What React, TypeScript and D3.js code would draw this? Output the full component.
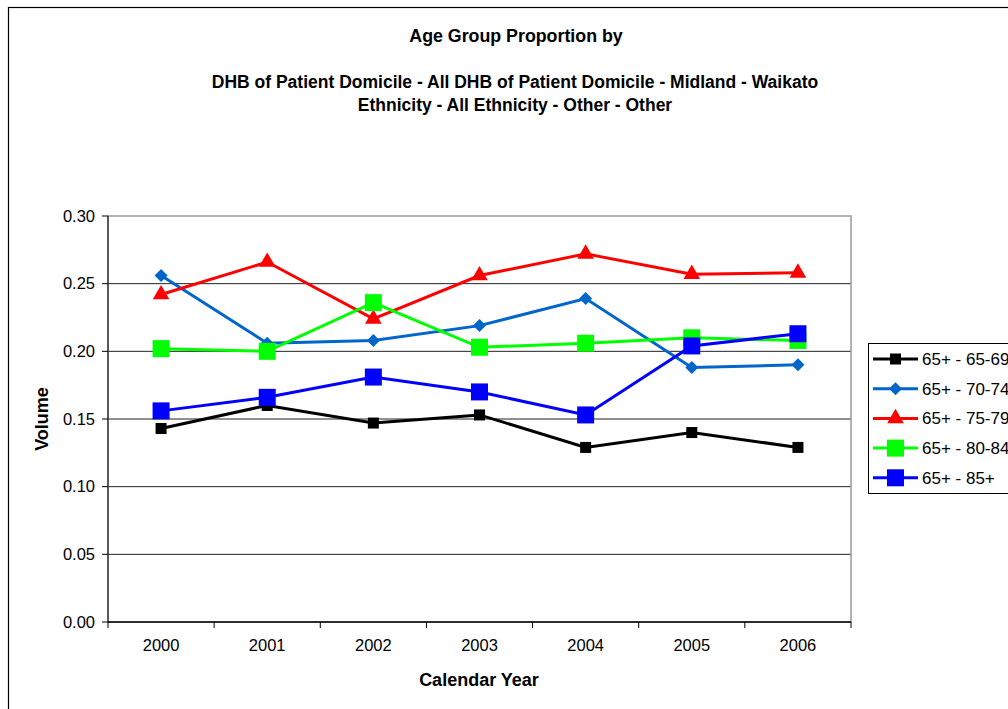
import { scaleBand, scaleLinear, line as d3Line, symbol, symbolTriangle } from 'd3';

const years = ['2000', '2001', '2002', '2003', '2004', '2005', '2006'];
const yTicks = [0, 0.05, 0.1, 0.15, 0.2, 0.25, 0.3];

const age6569 = [0.143, 0.16, 0.147, 0.153, 0.129, 0.14, 0.129];
const age7074 = [0.256, 0.206, 0.208, 0.219, 0.239, 0.188, 0.19];
const age7579 = [0.242, 0.266, 0.224, 0.256, 0.272, 0.257, 0.258];
const age8084 = [0.202, 0.2, 0.236, 0.203, 0.206, 0.21, 0.208];
const age85 = [0.156, 0.166, 0.181, 0.17, 0.153, 0.204, 0.213];

const seriesNames = ['65+ - 65-69', '65+ - 70-74', '65+ - 75-79', '65+ - 80-84', '65+ - 85+'];
const seriesValues = [age6569, age7074, age7579, age8084, age85];
const seriesColors = ['#000000', '#0066CC', '#FF0000', '#00FF00', '#0000FF'];
const seriesMarkers = ['square', 'diamond', 'triangle', 'bigsquare', 'bigsquare'];

const FONT = 'Liberation Sans, Arial, sans-serif';

// plot area in page pixels
const M = { left: 108, right: 851, top: 216, bottom: 622 };

const Marker = ({ kind, x, y, color }: { kind: string; x: number; y: number; color: string }) => {
  if (kind === 'square') {
    return <rect x={x - 5.5} y={y - 5.5} width={11} height={11} fill={color} />;
  }
  if (kind === 'bigsquare') {
    return <rect x={x - 8.5} y={y - 8.5} width={17} height={17} fill={color} />;
  }
  if (kind === 'diamond') {
    const r = 6.5;
    return (
      <path
        d={`M${x},${y - r}L${x + r},${y}L${x},${y + r}L${x - r},${y}Z`}
        fill={color}
      />
    );
  }
  const tri = symbol().type(symbolTriangle).size(120)();
  return <path d={tri || ''} transform={`translate(${x},${y})`} fill={color} />;
};

const App = () => {
  const x = scaleBand().domain(years).range([M.left, M.right]);
  const y = scaleLinear().domain([0, 0.3]).range([M.bottom, M.top]);
  const cx = (d: string) => (x(d) || 0) + x.bandwidth() / 2;

  const line = d3Line<number>()
    .x((_, i) => cx(years[i]))
    .y((v) => y(v));

  const legendTop = 343;
  const legendStep = 29.7;

  return (
    <svg
      width={1008}
      height={709}
      style={{ position: 'absolute', left: 0, top: 0, background: '#fff' }}
      fontFamily={FONT}
    >
      {/* chart border */}
      <rect x={8.5} y={7.5} width={1010} height={720} fill="none" stroke="#000" strokeWidth={1.2} />

      {/* titles */}
      <g fontWeight="bold" textAnchor="middle" fill="#000">
        <text x={516} y={42} fontSize={17.8}>Age Group Proportion by</text>
        <text x={515} y={88} fontSize={17.5}>DHB of Patient Domicile - All DHB of Patient Domicile - Midland - Waikato</text>
        <text x={515} y={111} fontSize={17.5}>Ethnicity - All Ethnicity - Other - Other</text>
      </g>

      {/* gridlines */}
      {yTicks.slice(1, -1).map((t) => (
        <line key={t} x1={M.left} x2={M.right} y1={y(t)} y2={y(t)} stroke="#222" strokeWidth={1} />
      ))}
      {/* plot area border */}
      <rect
        x={M.left}
        y={M.top}
        width={M.right - M.left}
        height={M.bottom - M.top}
        fill="none"
        stroke="#999"
        strokeWidth={1.5}
      />

      {/* y axis */}
      <line x1={M.left} x2={M.left} y1={M.top} y2={M.bottom} stroke="#000" strokeWidth={1} />
      {yTicks.map((t) => (
        <g key={t}>
          <line x1={M.left - 6} x2={M.left} y1={y(t)} y2={y(t)} stroke="#000" />
          <text x={M.left - 13} y={y(t) + 5.5} fontSize={16.5} textAnchor="end">
            {t.toFixed(2)}
          </text>
        </g>
      ))}

      {/* x axis */}
      <line x1={M.left} x2={M.right} y1={M.bottom} y2={M.bottom} stroke="#000" strokeWidth={1.5} />
      {[...years.map((d) => x(d) || 0), M.right].map((px, i) => (
        <line key={i} x1={px} x2={px} y1={M.bottom} y2={M.bottom + 6} stroke="#000" />
      ))}
      {years.map((d) => (
        <text key={d} x={cx(d)} y={M.bottom + 29} fontSize={16.5} textAnchor="middle">
          {d}
        </text>
      ))}

      {/* axis titles */}
      <text x={479} y={686} fontSize={18} fontWeight="bold" textAnchor="middle">
        Calendar Year
      </text>
      <text
        transform={`translate(48, ${(M.top + M.bottom) / 2}) rotate(-90)`}
        fontSize={18}
        fontWeight="bold"
        textAnchor="middle"
      >
        Volume
      </text>

      {/* series */}
      {seriesValues.map((vals, si) => (
        <g key={seriesNames[si]}>
          <path d={line(vals) || ''} fill="none" stroke={seriesColors[si]} strokeWidth={3} />
          {vals.map((v, i) => (
            <Marker key={i} kind={seriesMarkers[si]} x={cx(years[i])} y={y(v)} color={seriesColors[si]} />
          ))}
        </g>
      ))}

      {/* legend */}
      <rect x={868.5} y={legendTop + 0.5} width={200} height={150} fill="#fff" stroke="#000" strokeWidth={1} />
      {seriesNames.map((name, i) => {
        const ly = legendTop + 16 + i * legendStep;
        return (
          <g key={name}>
            <line x1={873} x2={918} y1={ly} y2={ly} stroke={seriesColors[i]} strokeWidth={3} />
            <Marker kind={seriesMarkers[i]} x={895.5} y={ly} color={seriesColors[i]} />
            <text x={922} y={ly + 6} fontSize={17}>
              {name}
            </text>
          </g>
        );
      })}
    </svg>
  );
};

export default App;
